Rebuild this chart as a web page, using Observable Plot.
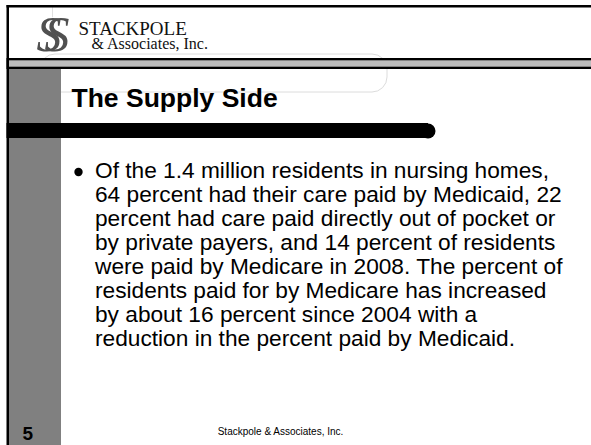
<!DOCTYPE html>
<html>
<head>
<meta charset="utf-8">
<script src="https://cdn.jsdelivr.net/npm/d3@7"></script>
<script src="https://cdn.jsdelivr.net/npm/@observablehq/plot@0.6"></script>
<style>
  html, body { margin: 0; padding: 0; background: #fff; }
  svg { display: block; }
</style>
</head>
<body>
<script>
// ---- slide content ----
const logoMark = ["SS"];
const logoLines = ["STACKPOLE", "& Associates, Inc."];
const titleText = ["The Supply Side"];
const bodyLines = [
  "Of the 1.4 million residents in nursing homes,",
  "64 percent had their care paid by Medicaid, 22",
  "percent had care paid directly out of pocket or",
  "by private payers, and 14 percent of residents",
  "were paid by Medicare in 2008. The percent of",
  "residents paid for by Medicare has increased",
  "by about 16 percent since 2004 with a",
  "reduction in the percent paid by Medicaid."
];
const slideNumber = ["5"];
const footerText = ["Stackpole & Associates, Inc."];

// ---- layout (pixel space through identity scales) ----
const W = 591, H = 445;
const sans = "'Liberation Sans', Arial, sans-serif";
const serif = "'Liberation Serif', 'Times New Roman', serif";
const bodyTop = 177, bodyStep = 24;

const chart = Plot.plot({
  width: W,
  height: H,
  margin: 0,
  x: {type: "identity", axis: null},
  y: {type: "identity", axis: null},
  marks: [
    // faint decorative lines in the logo / title area
    Plot.rect([0], {x1: 40, x2: 387, y1: 54, y2: 92, fill: "none", stroke: "#dcdcdc", strokeWidth: 1, rx: 15}),
    Plot.ruleX([0], {x: 52, y1: 7, y2: 18, stroke: "#e0e0e0"}),
    // logo swirl
    Plot.text(logoMark, {x: 36, y: 50, text: d => d, textAnchor: "start", lineAnchor: "bottom",
      fontFamily: serif, fontStyle: "italic", fontSize: 50, fill: "#505050",
      stroke: "#fff", strokeWidth: 1.5, className: "logo-mark"}),
    // logo text
    Plot.text(logoLines, {x: (d, i) => i === 0 ? 78 : 91, y: (d, i) => i === 0 ? 34 : 48.5, text: d => d,
      textAnchor: "start", lineAnchor: "bottom", fontFamily: serif,
      fontSize: (d, i) => i === 0 ? 19 : 16, fill: "#111"}),
    // top border
    Plot.rect([0], {x1: 6.5, x2: W, y1: 5, y2: 7.5, fill: "#000"}),
    // double band
    Plot.rect([0], {x1: 6.5, x2: W, y1: 58, y2: 69, fill: "#000"}),
    Plot.rect([0], {x1: 9, x2: W, y1: 60.3, y2: 66.7, fill: "#bdbdbd"}),
    // left gray column
    Plot.rect([0], {x1: 9, x2: 61, y1: 69, y2: H, fill: "#808080"}),
    // left border
    Plot.rect([0], {x1: 6.5, x2: 9, y1: 5, y2: H, fill: "#000"}),
    // title
    Plot.text(titleText, {x: 71, y: 106.5, text: d => d, textAnchor: "start", lineAnchor: "bottom",
      fontFamily: sans, fontWeight: "bold", fontSize: 26.5, fill: "#000"}),
    // black bar with rounded right end
    Plot.rect([0], {x1: 6.5, x2: 428, y1: 123, y2: 138, fill: "#000"}),
    Plot.dot([0], {x: 427.5, y: 130.5, r: 7.5, fill: "#000", stroke: "none"}),
    // bullet
    Plot.dot([0], {x: 78, y: 171.5, r: 4.2, fill: "#000", stroke: "none"}),
    // body text
    Plot.text(bodyLines, {x: 94.5, y: (d, i) => bodyTop + i * bodyStep, text: d => d,
      textAnchor: "start", lineAnchor: "bottom", fontFamily: sans, fontSize: 22.7, fill: "#000"}),
    // slide number
    Plot.text(slideNumber, {x: 22, y: 439, text: d => d, textAnchor: "start", lineAnchor: "bottom",
      fontFamily: sans, fontWeight: "bold", fontSize: 19, fill: "#000"}),
    // footer
    Plot.text(footerText, {x: 280, y: 434, text: d => d, textAnchor: "middle", lineAnchor: "bottom",
      fontFamily: sans, fontSize: 10, fill: "#000"})
  ]
});
d3.select(chart).selectAll("g.logo-mark text").style("letter-spacing", "-17px");
document.body.appendChild(chart);
</script>
</body>
</html>
